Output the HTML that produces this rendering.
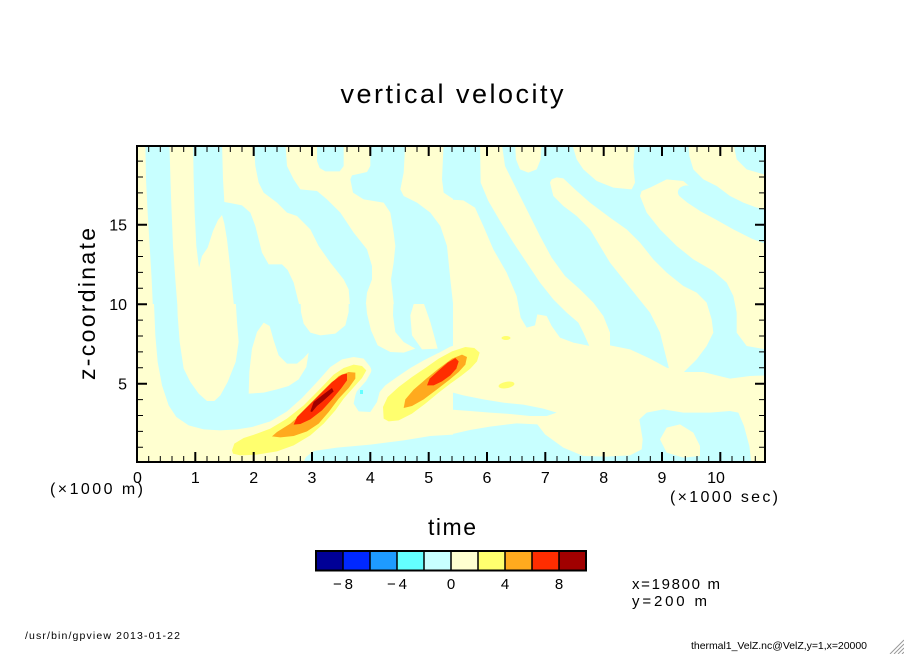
<!DOCTYPE html>
<html><head><meta charset="utf-8"><style>
html,body{margin:0;padding:0;background:#fff;}
svg{display:block;}
</style></head><body>
<svg width="904" height="654" viewBox="0 0 904 654" xmlns="http://www.w3.org/2000/svg" font-family="'Liberation Sans', 'DejaVu Sans', sans-serif">
<defs>
<clipPath id="cA"><rect x="137" y="146" width="316" height="158.5"/></clipPath>
<clipPath id="cB"><rect x="137" y="304" width="316" height="158"/></clipPath>
<clipPath id="cC"><rect x="453" y="146" width="313" height="316"/></clipPath>
<clipPath id="cP"><rect x="137" y="146" width="629" height="316"/></clipPath>
</defs>
<rect width="904" height="654" fill="#fff"/>
<rect x="137" y="146" width="629" height="316" fill="#FFFFD0"/>

<!-- region A: upper-left -->
<g clip-path="url(#cA)"><g transform="translate(137,146) scale(0.333333)" fill="#C8FFFF">
<rect x="-10" y="-10" width="1000" height="520" fill="#FFFFD0"/>
<polygon points="25,-10 97,-10 102,150 108,300 115,400 122,490 48,490 44,400 38,300 32,200 27,100"/>
<polygon points="168,-10 255,-10 258,100 262,168 285,172 315,178 340,200 355,240 365,280 375,320 395,355 435,355 452,372 470,410 490,490 292,490 285,420 278,350 270,280 262,232 255,207 243,222 228,255 212,305 195,330 186,365 178,300 173,200 170,100"/>
<polygon points="350,-10 445,-10 450,60 470,100 490,130 540,135 570,160 610,200 650,260 690,310 705,360 705,400 690,440 685,490 640,490 635,430 620,400 580,350 545,300 520,250 480,210 450,200 420,170 380,140 365,110 355,60"/>
<polygon points="540,-10 620,-10 620,60 608,76 565,76 548,66 540,45"/>
<polygon points="700,-10 805,-10 800,80 790,130 800,150 840,170 880,200 910,240 930,300 940,400 950,490 772,490 770,470 762,400 770,350 775,300 770,260 760,200 740,170 680,160 648,140 640,100 645,88 690,78 700,60"/>
<polygon points="920,-10 970,-10 970,160 950,160 920,140 915,100"/>
</g></g>

<!-- region B: lower-left -->
<g clip-path="url(#cB)"><g transform="translate(137,302) scale(0.333333)">
<rect x="-10" y="-30" width="1040" height="540" fill="#FFFFD0"/>
<polygon fill="#C8FFFF" points="50,-20 1010,-20 1010,128 950,138 900,155 860,175 820,198 780,225 745,250 728,270 720,300 700,330 665,328 650,305 655,280 665,252 690,225 700,195 680,170 650,165 615,172 580,195 540,240 495,288 450,328 400,358 345,375 300,382 250,385 200,382 155,370 118,345 95,310 75,250 62,180 55,100"/>
<g fill="#FFFFD0">
<polygon points="120,-20 295,-20 300,60 305,120 296,180 272,240 250,280 232,297 210,297 185,275 160,240 140,200 128,120 122,40"/>
<polygon points="335,275 337,210 345,140 360,90 380,62 398,72 410,115 425,160 450,185 480,185 500,168 515,152 508,195 485,232 455,252 420,262 380,272"/>
<polygon points="490,-20 635,-20 635,30 625,70 595,95 550,100 520,92 500,65 492,30"/>
<polygon points="685,-20 770,-20 768,40 775,90 800,120 835,140 800,152 760,150 722,130 702,85 690,35"/>
<polygon points="838,-20 852,-20 880,60 902,140 855,142 825,100 820,40"/>
</g>
<polygon fill="#C8FFFF" points="495,500 497,485 507,465 530,447 600,437 700,428 800,415 880,402 960,397 1010,395 1010,500"/>
</g></g>

<!-- region C: right half -->
<g clip-path="url(#cC)"><g transform="translate(450,146) scale(0.333333)">
<rect x="-10" y="-10" width="980" height="980" fill="#C8FFFF"/>
<g fill="#FFFFD0">
<polygon points="-10,160 40,163 75,185 100,240 130,310 170,380 200,450 212,515 230,545 255,538 262,505 290,510 305,540 330,575 370,590 420,600 480,598 540,610 600,638 650,665 700,678 760,678 800,688 840,698 900,690 958,688 958,958 905,958 898,900 882,840 865,800 840,795 780,800 700,800 640,790 590,800 568,820 578,880 575,910 540,928 470,932 400,930 340,905 285,865 262,835 200,832 120,842 60,852 -10,868"/>
<polygon points="90,-10 155,-10 165,60 200,130 235,200 270,270 305,335 345,390 390,430 430,470 460,510 480,560 480,605 420,605 400,560 385,530 350,500 310,460 270,410 230,350 190,290 150,225 115,165 92,110"/>
<polygon points="195,-10 275,-10 272,40 260,70 235,80 210,70 198,40"/>
<polygon points="300,110 305,100 320,94 340,97 375,130 420,170 480,215 530,250 570,290 610,340 650,380 700,420 740,440 770,470 785,520 790,560 770,600 740,640 700,680 660,680 650,640 630,560 600,500 560,450 520,400 480,350 450,300 420,250 380,210 340,180 310,150"/>
<polygon points="365,-10 555,-10 550,60 555,110 545,130 490,125 440,105 400,70 380,40"/>
<polygon points="575,135 600,125 650,100 700,105 740,140 790,180 850,210 900,240 958,260 958,612 890,600 860,560 860,500 850,450 830,410 790,375 730,340 680,300 630,250 590,200 570,150"/>
<polygon points="715,-10 850,-10 860,40 890,70 958,90 958,190 920,185 880,170 840,150 800,120 760,100 730,70 718,30"/>
<polygon points="630,880 650,845 690,835 730,860 750,900 750,930 700,935 650,920"/>
</g>
<!-- cyan finger in upper right -->
<path fill="#C8FFFF" d="M688,150 C676,135 690,118 712,118 L745,128 L795,152 L850,178 L905,196 L965,202 L965,300 L905,278 L850,250 L800,222 L752,196 L712,170 Z"/>
<polygon fill="#C8FFFF" points="-10,735 40,748 100,760 160,770 220,776 280,788 320,800 290,810 240,810 180,804 120,800 60,795 -10,790"/>
</g></g>

<!-- small yellow spots -->
<ellipse cx="506" cy="338" rx="4.5" ry="2" fill="#FFFF6E"/>
<ellipse cx="506.5" cy="385" rx="8" ry="3.2" fill="#FFFF6E" transform="rotate(-10 506.5 385)"/>

<!-- blobs -->
<g clip-path="url(#cP)"><g transform="translate(137,302) scale(0.333333)" stroke-linejoin="round">
<polygon fill="#FFFFD0" stroke="#FFFFD0" stroke-width="30" points="285,445 292,425 320,408 360,395 400,380 450,350 500,310 550,260 590,218 620,198 650,188 675,192 688,205 675,228 648,258 620,290 595,325 560,365 520,400 470,430 420,448 360,458 310,460 288,455"/>
<polygon fill="#FFFFD0" stroke="#FFFFD0" stroke-width="30" points="740,350 738,315 752,285 785,255 825,225 865,198 905,170 945,148 985,135 1012,138 1028,152 1020,178 1000,200 972,222 940,245 905,272 865,305 825,335 785,355 755,358"/>
<polygon fill="#FFFF6E" points="285,445 292,425 320,408 360,395 400,380 450,350 500,310 550,260 590,218 620,198 650,188 675,192 688,205 675,228 648,258 620,290 595,325 560,365 520,400 470,430 420,448 360,458 310,460 288,455"/>
<polygon fill="#FFAA1E" points="405,403 420,390 460,365 500,330 540,290 575,252 605,222 635,210 655,212 655,230 635,258 605,290 575,330 545,365 510,388 470,402 430,406"/>
<polygon fill="#FF2D00" points="470,368 480,345 510,315 550,275 585,240 615,218 630,215 630,235 612,260 585,292 555,325 520,352 490,366"/>
<polygon fill="#A00000" points="520,328 530,300 555,280 575,265 585,258 590,268 575,282 555,300 540,312 525,330"/>
<polygon fill="#FFFF6E" points="740,350 738,315 752,285 785,255 825,225 865,198 905,170 945,148 985,135 1012,138 1028,152 1020,178 1000,200 972,222 940,245 905,272 865,305 825,335 785,355 755,358"/>
<polygon fill="#FFAA1E" points="800,318 805,292 830,263 868,230 905,200 945,170 975,158 990,165 985,188 965,210 935,235 900,262 860,292 825,312"/>
<polygon fill="#FF2D00" points="870,250 878,230 905,205 932,182 955,168 965,178 958,200 940,220 915,238 890,250"/>
</g></g>
<rect x="360" y="390" width="3" height="4" fill="#64FFFF"/>

<!-- frame -->
<rect x="137" y="146" width="628" height="316" fill="none" stroke="#000" stroke-width="2"/>
<!-- minor ticks x -->
<path stroke="#000" stroke-width="1" fill="none" d="M148.7 146v6M148.7 462v-6M160.3 146v6M160.3 462v-6M172 146v6M172 462v-6M183.7 146v6M183.7 462v-6M207 146v6M207 462v-6M218.7 146v6M218.7 462v-6M230.3 146v6M230.3 462v-6M242 146v6M242 462v-6M265.3 146v6M265.3 462v-6M277 146v6M277 462v-6M288.7 146v6M288.7 462v-6M300.3 146v6M300.3 462v-6M323.7 146v6M323.7 462v-6M335.3 146v6M335.3 462v-6M347 146v6M347 462v-6M358.7 146v6M358.7 462v-6M382 146v6M382 462v-6M393.7 146v6M393.7 462v-6M405.3 146v6M405.3 462v-6M417 146v6M417 462v-6M440.3 146v6M440.3 462v-6M452 146v6M452 462v-6M463.7 146v6M463.7 462v-6M475.3 146v6M475.3 462v-6M498.7 146v6M498.7 462v-6M510.3 146v6M510.3 462v-6M522 146v6M522 462v-6M533.7 146v6M533.7 462v-6M557 146v6M557 462v-6M568.7 146v6M568.7 462v-6M580.3 146v6M580.3 462v-6M592 146v6M592 462v-6M615.3 146v6M615.3 462v-6M627 146v6M627 462v-6M638.7 146v6M638.7 462v-6M650.3 146v6M650.3 462v-6M673.7 146v6M673.7 462v-6M685.3 146v6M685.3 462v-6M697 146v6M697 462v-6M708.7 146v6M708.7 462v-6M732 146v6M732 462v-6M743.7 146v6M743.7 462v-6M755.3 146v6M755.3 462v-6"/>
<!-- minor ticks y -->
<path stroke="#000" stroke-width="1" fill="none" d="M137 447.3h6M765 447.3h-6M137 431.4h6M765 431.4h-6M137 415.5h6M765 415.5h-6M137 399.6h6M765 399.6h-6M137 367.8h6M765 367.8h-6M137 351.9h6M765 351.9h-6M137 336h6M765 336h-6M137 320.1h6M765 320.1h-6M137 288.3h6M765 288.3h-6M137 272.4h6M765 272.4h-6M137 256.5h6M765 256.5h-6M137 240.6h6M765 240.6h-6M137 208.8h6M765 208.8h-6M137 192.9h6M765 192.9h-6M137 177h6M765 177h-6M137 161.1h6M765 161.1h-6"/>
<!-- major ticks -->
<path stroke="#000" stroke-width="2" fill="none" d="M195.3 146v10M195.3 462v-10M253.7 146v10M253.7 462v-10M312 146v10M312 462v-10M370.3 146v10M370.3 462v-10M428.7 146v10M428.7 462v-10M487 146v10M487 462v-10M545.3 146v10M545.3 462v-10M603.7 146v10M603.7 462v-10M662 146v10M662 462v-10M720.3 146v10M720.3 462v-10M137 383.7h10M765 383.7h-10M137 304.2h10M765 304.2h-10M137 224.7h10M765 224.7h-10"/>

<!-- tick labels -->
<g font-size="16" fill="#000" text-anchor="middle">
<text x="137.5" y="483">0</text>
<text x="195.3" y="483">1</text>
<text x="253.7" y="483">2</text>
<text x="312" y="483">3</text>
<text x="370.3" y="483">4</text>
<text x="428.7" y="483">5</text>
<text x="487" y="483">6</text>
<text x="545.3" y="483">7</text>
<text x="603.7" y="483">8</text>
<text x="662" y="483">9</text>
<text x="716" y="483">10</text>
</g>
<g font-size="16" fill="#000" text-anchor="end">
<text x="127" y="389.5">5</text>
<text x="127" y="310">10</text>
<text x="127" y="230.5">15</text>
</g>
<text x="50" y="494" font-size="16" textLength="93" lengthAdjust="spacing">(×1000 m)</text>
<text x="670" y="502" font-size="16" textLength="108" lengthAdjust="spacing">(×1000 sec)</text>

<!-- titles -->
<text x="452" y="103" font-size="27" text-anchor="middle" textLength="223" lengthAdjust="spacing">vertical velocity</text>
<text x="452" y="535" font-size="23" text-anchor="middle" textLength="48" lengthAdjust="spacing">time</text>
<text transform="translate(95,304) rotate(-90)" font-size="23" text-anchor="middle" textLength="152" lengthAdjust="spacing">z-coordinate</text>

<!-- colorbar -->
<g stroke="none">
<rect x="316" y="551" width="27" height="19.5" fill="#000096"/>
<rect x="343" y="551" width="27" height="19.5" fill="#0028FF"/>
<rect x="370" y="551" width="27" height="19.5" fill="#1E9BFF"/>
<rect x="397" y="551" width="27" height="19.5" fill="#64FFFF"/>
<rect x="424" y="551" width="27" height="19.5" fill="#C8FFFF"/>
<rect x="451" y="551" width="27" height="19.5" fill="#FFFFD0"/>
<rect x="478" y="551" width="27" height="19.5" fill="#FFFF6E"/>
<rect x="505" y="551" width="27" height="19.5" fill="#FFAA1E"/>
<rect x="532" y="551" width="27" height="19.5" fill="#FF2D00"/>
<rect x="559" y="551" width="27" height="19.5" fill="#A00000"/>
</g>
<path stroke="#000" stroke-width="1.5" fill="none" d="M343 551v19.5M370 551v19.5M397 551v19.5M424 551v19.5M451 551v19.5M478 551v19.5M505 551v19.5M532 551v19.5M559 551v19.5"/>
<rect x="316" y="551" width="270" height="19.5" fill="none" stroke="#000" stroke-width="2"/>
<g font-size="15" fill="#000" text-anchor="middle">
<text x="343" y="589" textLength="20" lengthAdjust="spacing">−8</text>
<text x="397" y="589" textLength="20" lengthAdjust="spacing">−4</text>
<text x="451" y="589">0</text>
<text x="505" y="589">4</text>
<text x="559" y="589">8</text>
</g>
<text x="632" y="589" font-size="15" textLength="88" lengthAdjust="spacing">x=19800 m</text>
<text x="632" y="606" font-size="15" textLength="75" lengthAdjust="spacing">y=200 m</text>

<!-- footer -->
<text x="25" y="639" font-size="10.5" textLength="155" lengthAdjust="spacing">/usr/bin/gpview  2013-01-22</text>
<text x="691" y="649" font-size="10.5" textLength="176" lengthAdjust="spacing">thermal1_VelZ.nc@VelZ,y=1,x=20000</text>

<!-- resize grip -->
<path stroke="#999" stroke-width="1" d="M890 654L904 640M894 654L904 644M898 654L904 648M902 654L904 652"/>
</svg>
</body></html>
